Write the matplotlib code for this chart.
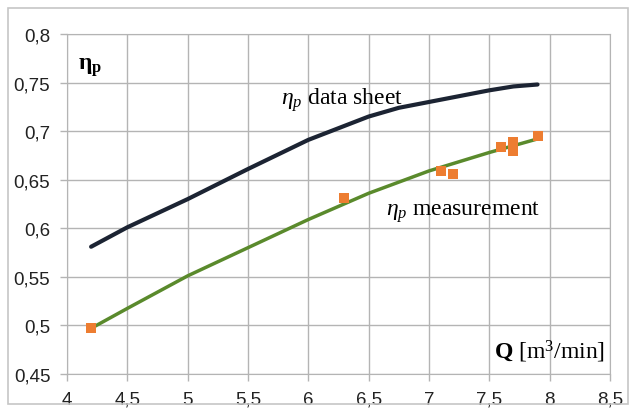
import matplotlib
matplotlib.use("Agg")
import matplotlib.pyplot as plt
from matplotlib.patches import Rectangle
from matplotlib.ticker import FuncFormatter, MultipleLocator

# data
q_sheet = [4.2, 4.5, 5.0, 5.5, 6.0, 6.25, 6.5, 6.75, 7.0, 7.25, 7.5, 7.7, 7.9]
eta_sheet = [0.581, 0.601, 0.630, 0.661, 0.691, 0.703, 0.715, 0.724, 0.730, 0.736, 0.742, 0.746, 0.748]
q_fit = [4.2, 4.5, 5.0, 5.5, 6.0, 6.5, 7.0, 7.5, 7.9]
eta_fit = [0.497, 0.5175, 0.551, 0.580, 0.609, 0.636, 0.659, 0.678, 0.692]
q_meas = [4.2, 6.3, 7.1, 7.2, 7.6, 7.7, 7.7, 7.9]
eta_meas = [0.497, 0.631, 0.659, 0.656, 0.684, 0.689, 0.680, 0.695]

plt.rcParams['mathtext.fontset'] = 'custom'
plt.rcParams['mathtext.rm'] = 'Liberation Serif'
plt.rcParams['mathtext.it'] = 'Liberation Serif:italic'
plt.rcParams['mathtext.bf'] = 'Liberation Serif:bold'

fig = plt.figure(figsize=(6.36, 4.14), dpi=100)
ax = fig.add_axes([0.1053, 0.0942, 0.8537, 0.8213])
fig.patches.append(Rectangle((8 / 636, 1 - 405 / 414), 620 / 636, 396 / 414,
                             transform=fig.transFigure, fill=False,
                             edgecolor='#c6c6c6', lw=1.2))

grid_c = '#b4b4b4'
ax.plot(q_sheet, eta_sheet, color='#1c2433', lw=3, solid_capstyle='round',
        solid_joinstyle='round', zorder=3)
ax.plot(q_fit, eta_fit, color='#5a8a2c', lw=2.5, solid_capstyle='round',
        solid_joinstyle='round', zorder=3)
ax.scatter(q_meas, eta_meas, marker='s', s=60, color='#ed7d31', zorder=4, lw=0)

ax.set_xlim(4, 8.5)
ax.set_ylim(0.45, 0.8)
ax.xaxis.set_major_locator(MultipleLocator(0.5))
ax.yaxis.set_major_locator(MultipleLocator(0.05))
fmt = FuncFormatter(lambda v, p: ('%g' % round(v, 3)).replace('.', ','))
ax.xaxis.set_major_formatter(fmt)
ax.yaxis.set_major_formatter(fmt)
ax.grid(True, color=grid_c, lw=1)
for s in ax.spines.values():
    s.set_color(grid_c)
ax.tick_params(colors=grid_c, length=5, width=1, labelcolor='#222222',
               labelsize=13.5)
ax.tick_params(axis='y', pad=7)
ax.tick_params(axis='x', pad=7)
for lab in ax.get_xticklabels() + ax.get_yticklabels():
    lab.set_family('Liberation Sans')

ax.text(4.09, 0.767, r'$\mathbf{η}_\mathbf{p}$', fontsize=17, ha='left', va='center')
ax.text(5.77, 0.733, r'$η_p$ data sheet', family='Liberation Serif', fontsize=17,
        ha='left', va='center')
ax.text(6.64, 0.618, r'$η_p$ measurement', family='Liberation Serif', fontsize=17,
        ha='left', va='center')
ax.text(8.46, 0.474, r'$\mathbf{Q}$ [m$^3$/min]', family='Liberation Serif',
        fontsize=17, ha='right', va='center')

fig.savefig('out.png', dpi=100)
